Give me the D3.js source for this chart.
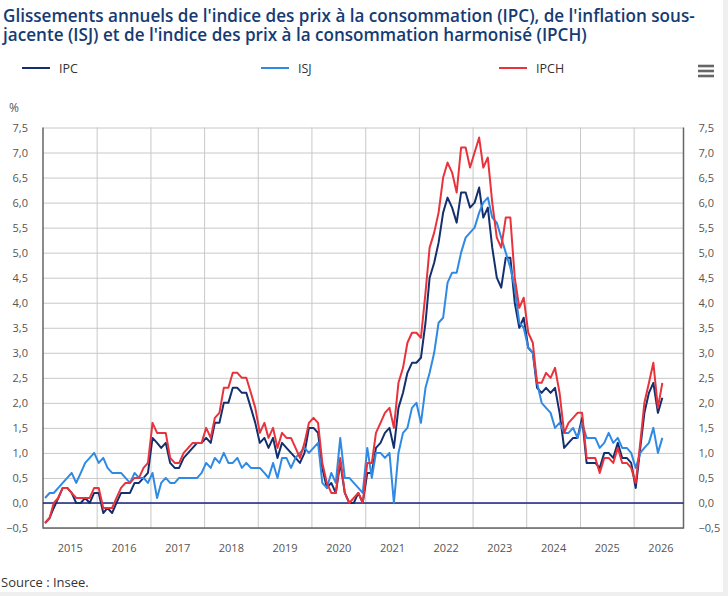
<!DOCTYPE html>
<html>
<head>
<meta charset="utf-8">
<script src="https://cdn.jsdelivr.net/npm/d3@7"></script>
<style>
  html, body { margin: 0; padding: 0; background: #efefef; }
  svg { display: block; }
  text { font-family: "Open Sans", "Noto Sans", sans-serif; }
</style>
</head>
<body>
<div id="chart"></div>
<script>
// monthly year-on-year changes, Jan 2015 -> Jul 2026 (in %)
var firstMonth = new Date(2015, 0, 15);

var ipc = [
  -0.4, -0.3, -0.1, 0.1, 0.3, 0.3, 0.2, 0.0, 0.0, 0.1, 0.0, 0.2,
  0.2, -0.2, -0.1, -0.2, 0.0, 0.2, 0.2, 0.2, 0.4, 0.4, 0.5, 0.6,
  1.3, 1.2, 1.1, 1.2, 0.8, 0.7, 0.7, 0.9, 1.0, 1.1, 1.2, 1.2,
  1.3, 1.2, 1.6, 1.6, 2.0, 2.0, 2.3, 2.3, 2.2, 2.2, 1.9, 1.6,
  1.2, 1.3, 1.1, 1.3, 0.9, 1.2, 1.1, 1.0, 0.9, 0.8, 1.0, 1.5,
  1.5, 1.4, 0.7, 0.3, 0.4, 0.2, 0.8, 0.2, 0.0, 0.0, 0.2, 0.0,
  0.6, 0.6, 1.1, 1.2, 1.4, 1.5, 1.1, 1.9, 2.2, 2.6, 2.8, 2.8,
  2.9, 3.6, 4.5, 4.8, 5.2, 5.8, 6.1, 5.9, 5.6, 6.2, 6.2, 5.9,
  6.0, 6.3, 5.7, 5.9, 5.1, 4.5, 4.3, 4.9, 4.9, 4.0, 3.5, 3.7,
  3.1, 3.0, 2.3, 2.2, 2.3, 2.2, 2.3, 1.8, 1.1, 1.2, 1.3, 1.3,
  1.7, 0.8, 0.8, 0.8, 0.7, 1.0, 1.0, 0.9, 1.2, 0.9, 0.9, 0.8,
  0.3, 1.1, 1.8, 2.2, 2.4, 1.8, 2.1
];

var isj = [
  0.1, 0.2, 0.2, 0.3, 0.4, 0.5, 0.6, 0.4, 0.6, 0.8, 0.9, 1.0,
  0.8, 0.9, 0.7, 0.6, 0.6, 0.6, 0.5, 0.4, 0.6, 0.5, 0.5, 0.4,
  0.6, 0.1, 0.4, 0.5, 0.4, 0.4, 0.5, 0.5, 0.5, 0.5, 0.5, 0.6,
  0.8, 0.7, 0.9, 0.8, 1.0, 0.8, 0.8, 0.9, 0.7, 0.8, 0.7, 0.7,
  0.7, 0.6, 0.5, 0.8, 0.5, 0.9, 0.9, 0.7, 0.9, 1.0, 1.1, 1.0,
  1.1, 1.2, 0.4, 0.3, 0.6, 0.4, 1.3, 0.5, 0.5, 0.4, 0.3, 0.2,
  1.1, 0.5, 1.0, 1.0, 0.9, 1.0, 0.0, 1.0, 1.4, 1.5, 1.9, 2.0,
  1.6, 2.3, 2.6, 3.0, 3.6, 3.7, 4.4, 4.6, 4.6, 5.0, 5.3, 5.4,
  5.5, 5.8, 6.0, 6.1, 5.7, 5.6, 5.3, 5.0, 4.7, 4.3, 3.6, 3.5,
  3.1, 3.0, 2.4, 2.0, 1.9, 1.8, 1.5, 1.6, 1.4, 1.4, 1.5, 1.3,
  1.6, 1.3, 1.3, 1.3, 1.1, 1.2, 1.4, 1.2, 1.3, 1.1, 1.1, 1.0,
  0.7, 1.0, 1.1, 1.2, 1.5, 1.0, 1.3
];

var ipch = [
  -0.4, -0.3, 0.0, 0.1, 0.3, 0.3, 0.2, 0.1, 0.1, 0.1, 0.1, 0.3,
  0.3, -0.1, -0.1, -0.1, 0.1, 0.3, 0.4, 0.4, 0.5, 0.5, 0.7, 0.8,
  1.6, 1.4, 1.4, 1.4, 0.9, 0.8, 0.8, 1.0, 1.1, 1.2, 1.2, 1.2,
  1.5, 1.3, 1.7, 1.8, 2.3, 2.3, 2.6, 2.6, 2.5, 2.5, 2.2, 1.9,
  1.4, 1.6, 1.3, 1.5, 1.1, 1.4, 1.3, 1.3, 1.1, 0.9, 1.2, 1.6,
  1.7, 1.6, 0.8, 0.4, 0.2, 0.2, 0.9, 0.2, 0.0, 0.1, 0.2, 0.0,
  0.8, 0.8, 1.4, 1.6, 1.8, 1.9, 1.5, 2.4, 2.7, 3.2, 3.4, 3.4,
  3.3, 4.2, 5.1, 5.4, 5.8, 6.5, 6.8, 6.6, 6.2, 7.1, 7.1, 6.7,
  7.0, 7.3, 6.7, 6.9, 6.0, 5.3, 5.1, 5.7, 5.7, 4.5, 3.9, 4.1,
  3.4, 3.2, 2.4, 2.4, 2.6, 2.5, 2.7, 2.2, 1.4, 1.6, 1.7, 1.8,
  1.8, 0.9, 0.9, 0.9, 0.6, 0.9, 0.9, 0.8, 1.1, 0.8, 0.8, 0.7,
  0.4, 1.2, 2.0, 2.4, 2.8, 1.9, 2.4
];

var seriesNames = ["IPC", "ISJ", "IPCH"];
var seriesColors = ["#142f6e", "#2f8ae3", "#e8333c"];
var yTicks = [-0.5, 0, 0.5, 1, 1.5, 2, 2.5, 3, 3.5, 4, 4.5, 5, 5.5, 6, 6.5, 7, 7.5];
var yearLabels = [2015, 2016, 2017, 2018, 2019, 2020, 2021, 2022, 2023, 2024, 2025, 2026];

var w = 728, h = 596;
var plotLeft = 43, plotRight = 683.5, plotTop = 127.5, plotBottom = 528;

var svg = d3.select("#chart").append("svg")
    .attr("width", w)
    .attr("height", h);

// white card with light grey page border on right / bottom
svg.append("rect").attr("x", 0).attr("y", 0).attr("width", 723).attr("height", 592).attr("fill", "#fff");

var months = ipc.map(function(d, i) { return d3.timeMonth.offset(firstMonth, i); });

var x = d3.scaleTime()
    .domain([new Date(2015, 0, 1), new Date(2026, 11, 6)])
    .range([plotLeft, plotRight]);

var y = d3.scaleLinear()
    .domain([-0.5, 7.5])
    .range([plotBottom, plotTop]);

var fmt = function(d) { return d3.format(".1f")(d).replace(".", ","); };

function styleLabels(g) {
    g.select(".domain").remove();
    g.selectAll("text").attr("fill", "#555").attr("font-size", "11px")
        .attr("font-family", "'Open Sans', sans-serif");
}

// horizontal grid
svg.append("g")
    .attr("transform", "translate(" + plotLeft + ",0)")
    .call(d3.axisLeft(y).tickValues(yTicks).tickSize(-(plotRight - plotLeft)).tickFormat(""))
    .call(function(g) {
        g.select(".domain").remove();
        g.selectAll("line").attr("stroke", "#c8c8c8");
    });

// vertical grid at each 1st January
var yearStarts = yearLabels.slice(1).map(function(yr) { return new Date(yr, 0, 1); });
svg.append("g")
    .attr("transform", "translate(0," + plotBottom + ")")
    .call(d3.axisBottom(x).tickValues(yearStarts).tickSize(-(plotBottom - plotTop)).tickFormat(""))
    .call(function(g) {
        g.select(".domain").remove();
        g.selectAll("line").attr("stroke", "#c8c8c8");
    });

// year labels centred in each year
svg.append("g")
    .attr("transform", "translate(0," + plotBottom + ")")
    .call(d3.axisBottom(x)
        .tickValues(yearLabels.map(function(yr) { return new Date(yr, 6, 2); }))
        .tickSize(0)
        .tickPadding(16)
        .tickFormat(d3.timeFormat("%Y")))
    .call(styleLabels);

// y labels left and right
svg.append("g")
    .attr("transform", "translate(" + plotLeft + ",0)")
    .call(d3.axisLeft(y).tickValues(yTicks).tickSize(0).tickPadding(15).tickFormat(fmt))
    .call(styleLabels);

svg.append("g")
    .attr("transform", "translate(" + plotRight + ",0)")
    .call(d3.axisRight(y).tickValues(yTicks).tickSize(0).tickPadding(15).tickFormat(fmt))
    .call(styleLabels);

svg.append("text")
    .attr("x", 9)
    .attr("y", 112)
    .attr("fill", "#555")
    .attr("font-size", "12px")
    .text("%");

// plot frame
svg.append("path")
    .attr("d", "M" + plotLeft + "," + plotTop + "V" + plotBottom + "H" + plotRight + "V" + plotTop)
    .attr("fill", "none")
    .attr("stroke", "#666")
    .attr("stroke-width", 1.5);

// zero line
svg.append("line")
    .attr("x1", plotLeft).attr("x2", plotRight)
    .attr("y1", y(0)).attr("y2", y(0))
    .attr("stroke", "#1a237e")
    .attr("stroke-width", 1.5);

var line = d3.line()
    .x(function(d, i) { return x(months[i]); })
    .y(function(d) { return y(d); });

[ipc, isj, ipch].forEach(function(values, k) {
    svg.append("path")
        .datum(values)
        .attr("fill", "none")
        .attr("stroke", seriesColors[k])
        .attr("stroke-width", 2)
        .attr("stroke-linejoin", "round")
        .attr("d", line);
});

// title
var title = svg.append("text")
    .attr("fill", "#163b73")
    .attr("font-size", "17.1px")
    .attr("font-weight", 600);
title.append("tspan").attr("x", 3).attr("y", 22)
    .text("Glissements annuels de l'indice des prix à la consommation (IPC), de l'inflation sous-");
title.append("tspan").attr("x", 3).attr("y", 41)
    .text("jacente (ISJ) et de l'indice des prix à la consommation harmonisé (IPCH)");

// legend
var legendX = [22, 261, 499];
var legend = svg.append("g");
seriesNames.forEach(function(name, k) {
    legend.append("line")
        .attr("x1", legendX[k]).attr("x2", legendX[k] + 28)
        .attr("y1", 68).attr("y2", 68)
        .attr("stroke", seriesColors[k])
        .attr("stroke-width", 2);
    legend.append("text")
        .attr("x", legendX[k] + 37)
        .attr("y", 72.5)
        .attr("fill", "#333")
        .attr("font-size", "12.5px")
        .text(name);
});

// menu icon
[66, 71, 76].forEach(function(yy) {
    svg.append("rect")
        .attr("x", 698).attr("y", yy - 1.3)
        .attr("width", 16).attr("height", 2.6)
        .attr("fill", "#666");
});

svg.append("text")
    .attr("x", 1)
    .attr("y", 587)
    .attr("fill", "#333")
    .attr("font-size", "13px")
    .text("Source : Insee.");
</script>
</body>
</html>
